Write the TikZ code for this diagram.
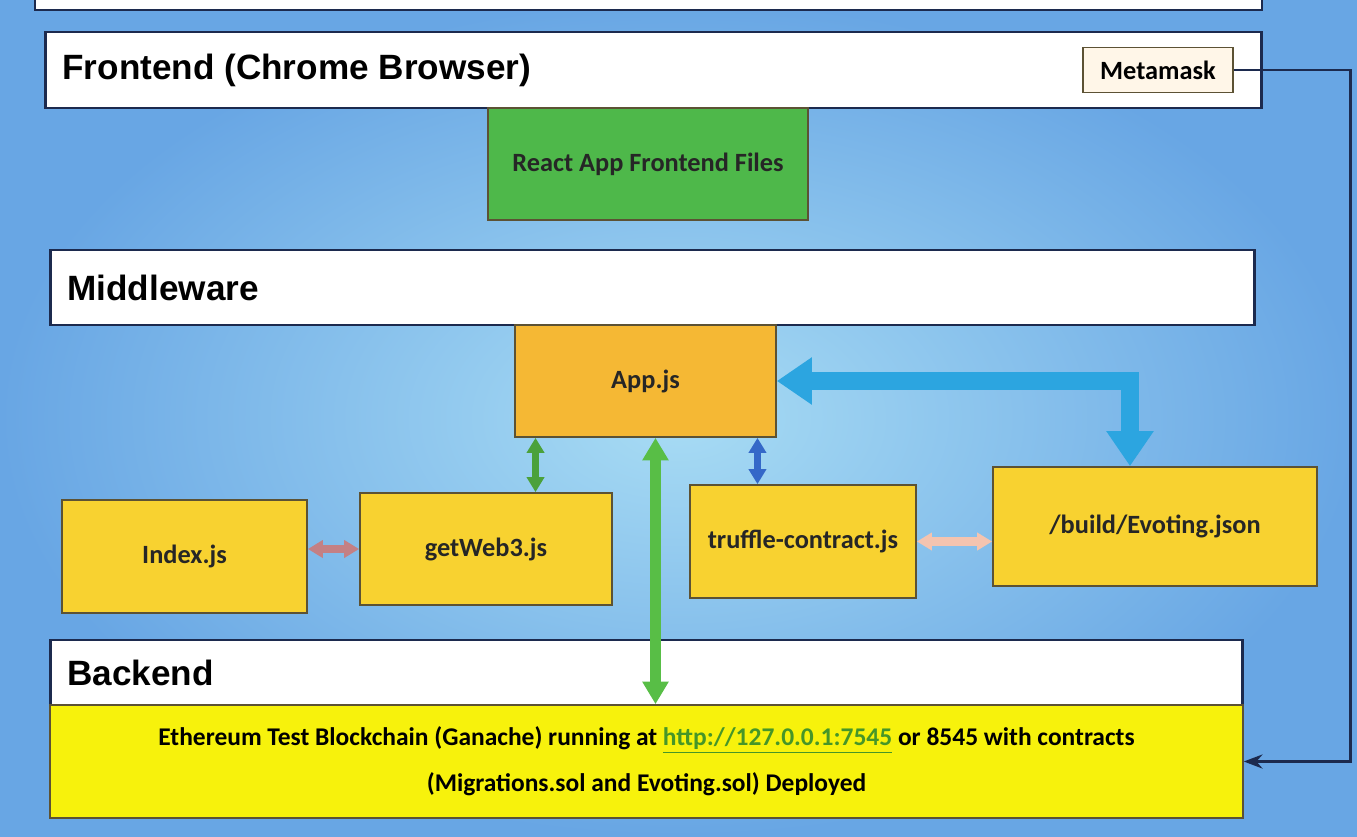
\documentclass[tikz,border=0pt]{standalone}
\usepackage{fontspec}
\setmainfont{Carlito}
\newfontfamily\headfont{Liberation Sans}
\usetikzlibrary{arrows.meta}

\definecolor{skyout}{RGB}{104,166,228}
\definecolor{skyin}{RGB}{168,220,244}
\definecolor{barline}{RGB}{28,42,78}
\definecolor{jsorange}{RGB}{245,184,52}
\definecolor{jsyellow}{RGB}{248,210,48}
\definecolor{reactgreen}{RGB}{78,184,74}
\definecolor{chainyellow}{RGB}{247,242,12}
\definecolor{boxline}{RGB}{92,82,52}
\definecolor{metafill}{RGB}{255,246,232}
\definecolor{flowblue}{RGB}{44,165,224}
\definecolor{darkblue}{RGB}{52,104,200}
\definecolor{linkgreen}{RGB}{88,190,70}
\definecolor{mauve}{RGB}{196,128,132}
\definecolor{salmon}{RGB}{244,196,176}
\definecolor{urlgreen}{RGB}{70,150,40}

\begin{document}
\begin{tikzpicture}[x=0.02cm, y=-0.02cm, >=Stealth,
  bar/.style={draw=barline, line width=1.6pt, fill=white, inner sep=0pt},
  barlabel/.style={font=\headfont\fontsize{20}{24}\selectfont\bfseries, anchor=west},
  jsbox/.style={draw=boxline, line width=1pt, fill=jsyellow, text=black!85,
    font=\fontsize{15}{18}\selectfont\bfseries},
  metabox/.style={draw=boxline, line width=0.8pt, fill=metafill,
    font=\fontsize{15}{18}\selectfont\bfseries},
  chainbox/.style={draw=boxline, line width=1pt, fill=chainyellow, align=center,
    font=\fontsize{14.5}{26}\selectfont\bfseries},
  bigtip/.tip={Triangle[width=0.9cm, length=0.7cm]},
  midtip/.tip={Triangle[width=0.5cm, length=0.45cm]},
  smalltip/.tip={Triangle[width=0.34cm, length=0.3cm]}]

  % Slide background
  \clip (0,0) rectangle (1357,836);
  \shade[inner color=skyin, outer color=skyout] (0,0) rectangle (1357,836);

  % Layer bars
  \draw[bar] (35,-30) rectangle (1262,10);
  \node[bar, minimum width=24.34cm, minimum height=1.52cm] (front) at (653.5,70) {};
  \node[barlabel] at ([xshift=0.25cm]front.west) {Frontend (Chrome Browser)};
  \node[metabox, minimum width=3cm, minimum height=0.9cm] (meta) at (1158,70) {Metamask};

  \node[bar, minimum width=24.1cm, minimum height=1.5cm] (middle) at (652.5,287.5) {};
  \node[barlabel] at ([xshift=0.25cm]middle.west) {Middleware};

  \node[bar, minimum width=23.86cm, minimum height=1.3cm] (back) at (646.5,672.5) {};
  \node[barlabel] at ([xshift=0.25cm]back.west) {Backend};

  % Boxes
  \node[jsbox, fill=reactgreen, minimum width=6.4cm, minimum height=2.24cm] (react) at (648,164) {React App Frontend Files};
  \node[jsbox, fill=jsorange, minimum width=5.22cm, minimum height=2.24cm] (app) at (645.5,381) {App.js};
  \node[jsbox, minimum width=4.9cm, minimum height=2.26cm] (index) at (184.5,556.5) {Index.js};
  \node[jsbox, minimum width=5.04cm, minimum height=2.24cm] (web3) at (486,549) {getWeb3.js};
  \node[jsbox, minimum width=4.52cm, minimum height=2.26cm] (truffle) at (803,541.5) {truffle-contract.js};
  \node[jsbox, minimum width=6.48cm, minimum height=2.38cm] (build) at (1155,526.5) {/build/Evoting.json};
  \node[chainbox, minimum width=23.86cm, minimum height=2.26cm] (chain) at (646.5,761.5)
    {Ethereum Test Blockchain (Ganache) running at \textcolor{urlgreen}{\underline{http://127.0.0.1:7545}} or 8545 with contracts\\
     (Migrations.sol and Evoting.sol) Deployed};

  % Arrows
  \coordinate (gshort) at ([xshift=-2.2cm]app.south);
  \coordinate (glong) at ([xshift=0.2cm]app.south);
  \coordinate (bshort) at ([xshift=2.24cm]app.south);
  \draw[line width=10pt, flowblue, {bigtip}-{bigtip}] (app.east) -| ([xshift=-0.5cm]build.north);
  \draw[line width=6.5pt, linkgreen, {midtip}-{midtip}] (glong) -- (glong |- chain.north);
  \draw[line width=3.6pt, linkgreen!85!black, {smalltip}-{smalltip}] (gshort) -- (gshort |- web3.north);
  \draw[line width=3.6pt, darkblue, {smalltip}-{smalltip}] (bshort) -- (bshort |- truffle.north);
  \draw[line width=4.5pt, mauve, {smalltip}-{smalltip}] (index.east |- web3.east) -- (web3.east -| web3.west);
  \draw[line width=5pt, salmon, {smalltip}-{smalltip}] (truffle.east) -- (truffle.east -| build.west);

  % Metamask link
  \draw[->, line width=1.7pt, barline] (meta.east) -- ++(117,0) |- (chain.east);
\end{tikzpicture}
\end{document}
